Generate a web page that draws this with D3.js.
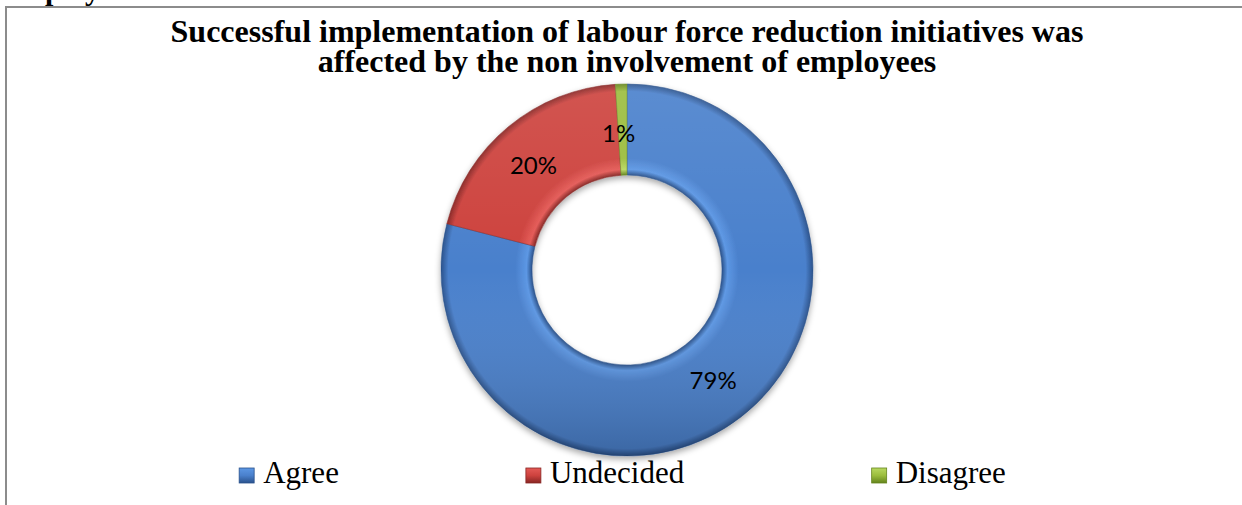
<!DOCTYPE html>
<html>
<head>
<meta charset="utf-8">
<script src="https://cdn.jsdelivr.net/npm/d3@7"></script>
<style>
  body { margin: 0; background: #fff; }
  svg { display: block; }
</style>
</head>
<body>
<svg id="chart" width="1242" height="505"></svg>
<script>
// chart data
var categories = ["Agree", "Undecided", "Disagree"];
var shares = [0.79, 0.20, 0.01];
var titleLines = ["Successful implementation of labour force reduction initiatives was",
                  "affected by the non involvement of employees"];

var svg = d3.select("svg"),
    width = +svg.attr("width"),
    height = +svg.attr("height");

var cx = 627, cy = 270, rOut = 186, rIn = 95;

// light / mid / dark shades for the bevel look
var shade = d3.scaleOrdinal()
    .domain(categories)
    .range([
      ["#5c97e4", "#4a80cc", "#2a528c"],
      ["#e45a56", "#cd423e", "#882624"],
      ["#b8d860", "#9bbd3c", "#64841d"]
    ]);

var defs = svg.append("defs");

// soft shadow under the ring
var shadow = defs.append("filter").attr("id", "shadow")
    .attr("x", "-10%").attr("y", "-10%").attr("width", "120%").attr("height", "125%");
shadow.append("feDropShadow")
    .attr("dx", 0).attr("dy", 3).attr("stdDeviation", 3)
    .attr("flood-color", "#000").attr("flood-opacity", 0.35);

categories.forEach(function(c, i) {
    var s = shade(c);
    var g = defs.append("radialGradient")
        .attr("id", "ring" + i)
        .attr("gradientUnits", "userSpaceOnUse")
        .attr("cx", 0).attr("cy", 0).attr("r", rOut);
    var k = rIn / rOut;
    [[k, s[2]], [k + 0.03, s[0]], [k + 0.09, s[1]], [0.9, s[1]], [0.96, s[1]], [1, s[2]]]
        .forEach(function(st) {
            g.append("stop").attr("offset", st[0]).attr("stop-color", st[1]);
        });

    var lg = defs.append("linearGradient")
        .attr("id", "sw" + i)
        .attr("x1", 0).attr("y1", 0).attr("x2", 0).attr("y2", 1);
    lg.append("stop").attr("offset", 0).attr("stop-color", s[0]);
    lg.append("stop").attr("offset", 0.5).attr("stop-color", s[1]);
    lg.append("stop").attr("offset", 1).attr("stop-color", s[2]);
});

// light from the top, darker at the bottom
var over = defs.append("linearGradient")
    .attr("id", "over")
    .attr("gradientUnits", "userSpaceOnUse")
    .attr("x1", 0).attr("y1", -rOut).attr("x2", 0).attr("y2", rOut);
over.append("stop").attr("offset", 0).attr("stop-color", "#fff").attr("stop-opacity", 0.1);
over.append("stop").attr("offset", 0.5).attr("stop-color", "#fff").attr("stop-opacity", 0);
over.append("stop").attr("offset", 1).attr("stop-color", "#000").attr("stop-opacity", 0.2);

// frame of the chart area (only top and left show)
svg.append("path")
    .attr("d", "M6," + height + "V7H" + width)
    .attr("fill", "none")
    .attr("stroke", "#8c8c8c")
    .attr("stroke-width", 2);

// heading text cut off above the chart
svg.append("text")
    .attr("x", 0).attr("y", 0)
    .style("font-family", "'Liberation Serif', 'Times New Roman', serif")
    .style("font-weight", "bold")
    .style("font-size", "30px")
    .text("Employees");

// title
svg.append("text")
    .attr("text-anchor", "middle")
    .style("font-family", "'Liberation Serif', 'Times New Roman', serif")
    .style("font-weight", "bold")
    .style("font-size", "32px")
    .selectAll("tspan")
    .data(titleLines)
    .enter().append("tspan")
    .attr("x", 627)
    .attr("y", function(d, i) { return 42 + i * 30; })
    .text(function(d) { return d; });

var pie = d3.pie().sort(null).startAngle(0).endAngle(2 * Math.PI);
var arc = d3.arc().innerRadius(rIn).outerRadius(rOut);
var labelArc = d3.arc().innerRadius((rIn + rOut) / 2).outerRadius((rIn + rOut) / 2);
var arcs = pie(shares);

var g = svg.append("g").attr("transform", "translate(" + cx + "," + cy + ")");

var ring = g.append("g").attr("filter", "url(#shadow)");
ring.selectAll("path.slice")
    .data(arcs)
    .enter().append("path")
    .attr("class", "slice")
    .attr("d", arc)
    .attr("fill", function(d, i) { return "url(#ring" + i + ")"; })
    .attr("stroke", function(d, i) { return shade(categories[i])[2]; })
    .attr("stroke-opacity", 0.5)
    .attr("stroke-width", 1);

g.append("path")
    .attr("d", d3.arc().innerRadius(rIn).outerRadius(rOut).startAngle(0).endAngle(2 * Math.PI)())
    .attr("fill", "url(#over)")
    .attr("pointer-events", "none");

// data labels
var pct = d3.format(".0%");
g.selectAll("text.lbl")
    .data(arcs)
    .enter().append("text")
    .attr("class", "lbl")
    .attr("transform", function(d, i) {
        var c = labelArc.centroid(d);
        if (i > 0) { c[0] -= 4; c[1] += 4; }
        return "translate(" + c + ")";
    })
    .attr("text-anchor", "middle")
    .attr("dy", "0.35em")
    .style("font-family", "Lato, Carlito, Calibri, sans-serif")
    .style("font-size", "24px")
    .style("fill", "#000")
    .text(function(d) { return pct(d.data); });

// legend, items spread with equal gaps
var legend = svg.append("g").attr("class", "legend");
var items = legend.selectAll("g")
    .data(categories)
    .enter().append("g");
items.append("rect")
    .attr("x", 0).attr("y", -15)
    .attr("width", 15).attr("height", 15)
    .attr("fill", function(d, i) { return "url(#sw" + i + ")"; })
    .attr("stroke", function(d) { return shade(d)[2]; })
    .attr("stroke-width", 0.8);
items.append("text")
    .attr("x", 24).attr("y", 0)
    .style("font-family", "'Liberation Serif', 'Times New Roman', serif")
    .style("font-size", "31px")
    .text(function(d) { return d; });

var widths = [];
items.each(function() { widths.push(this.getBBox().width); });
var gap = 187;
var total = d3.sum(widths) + gap * (widths.length - 1);
var x0 = 622.5 - total / 2;
items.attr("transform", function(d, i) {
    var x = x0 + d3.sum(widths.slice(0, i)) + gap * i;
    return "translate(" + x + ",483)";
});
</script>
</body>
</html>
